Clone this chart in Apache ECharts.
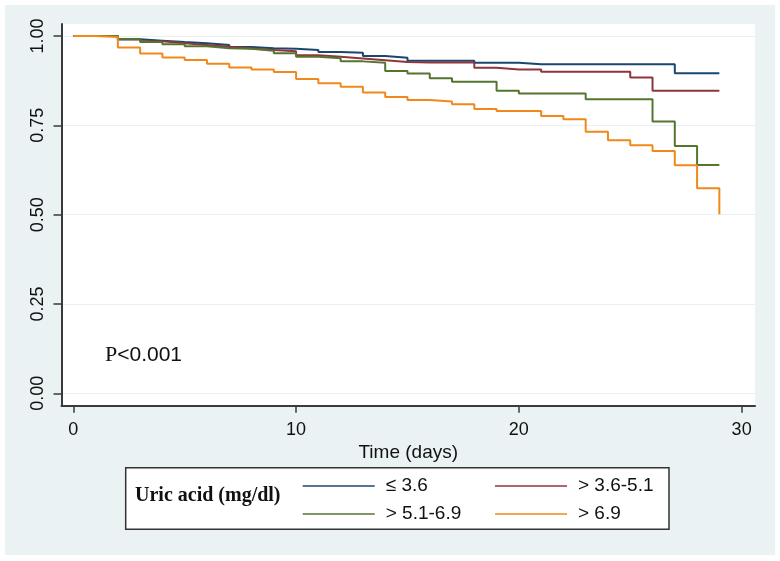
<!DOCTYPE html>
<html>
<head>
<meta charset="utf-8">
<script src="https://cdn.jsdelivr.net/npm/echarts@6/dist/echarts.min.js"></script>
<style>html,body{margin:0;padding:0;background:#fff}#c{width:780px;height:561px}</style>
</head>
<body>
<div id="c"></div>
<script>
const days = [0,1,2,3,4,5,6,7,8,9,10,11,12,13,14,15,16,17,18,19,20,21,22,23,24,25,26,27,28,29];
const seriesNames = ['≤ 3.6', '> 3.6-5.1', '> 5.1-6.9', '> 6.9'];
const le36 = [1.000,1.000,0.991,0.987,0.983,0.980,0.975,0.969,0.966,0.964,0.961,0.955,0.953,0.944,0.939,0.931,0.931,0.931,0.925,0.925,0.921,0.921,0.921,0.921,0.921,0.921,0.921,0.896,0.896,0.896];
const g36to51 = [1.000,1.000,0.991,0.985,0.980,0.975,0.970,0.965,0.961,0.957,0.946,0.942,0.937,0.932,0.927,0.926,0.926,0.926,0.911,0.906,0.906,0.900,0.900,0.900,0.900,0.884,0.847,0.847,0.847,0.847];
const g51to69 = [1.000,1.000,0.991,0.983,0.977,0.971,0.966,0.964,0.959,0.952,0.942,0.938,0.929,0.925,0.902,0.895,0.882,0.872,0.872,0.847,0.839,0.839,0.839,0.823,0.823,0.823,0.761,0.692,0.639,0.639];
const g69 = [1.000,0.997,0.968,0.951,0.940,0.933,0.922,0.912,0.906,0.899,0.880,0.868,0.858,0.842,0.829,0.821,0.817,0.809,0.796,0.790,0.790,0.776,0.767,0.732,0.708,0.694,0.678,0.638,0.574,0.501];
const xTicks = [0, 10, 20, 30];
const yTicks = [0, 0.25, 0.5, 0.75, 1];
const colors = ['#1a476f', '#90353b', '#55752f', '#f0891a'];
const values = [le36, g36to51, g51to69, g69];

const chart = echarts.init(document.getElementById('c'), null, {renderer: 'canvas'});
const sans = 'Liberation Sans, Arial, sans-serif';
const serif = 'Liberation Serif, Times New Roman, serif';

const series = values.map((v, i) => ({
  name: seriesNames[i],
  type: 'line',
  step: 'end',
  symbol: 'none',
  showSymbol: false,
  z: 3,
  lineStyle: {color: colors[i], width: 2},
  itemStyle: {color: colors[i]},
  data: days.map((d, k) => [d, v[k]])
}));

const legendBase = {
  orient: 'vertical', top: 475, itemWidth: 72, itemHeight: 2, itemGap: 6, padding: 0, z: 6,
  icon: 'path://M0,0 L100,0 L100,2 L0,2 Z',
  textStyle: {fontFamily: sans, fontSize: 19, color: '#111', padding: [0, 0, 0, 6], lineHeight: 22}
};

chart.setOption({
  backgroundColor: '#eaf2f3',
  animation: false,
  grid: {left: 61.5, right: 25, top: 24, bottom: 155.3, show: true, backgroundColor: '#ffffff', borderWidth: 0},
  xAxis: {
    type: 'value', min: -0.53, max: 30.6,
    axisLine: {show: true, onZero: false, lineStyle: {color: '#3a3a3a', width: 2}},
    axisTick: {show: true, length: 7, customValues: xTicks, lineStyle: {color: '#3a3a3a', width: 1.5}},
    axisLabel: {customValues: xTicks, margin: 15, fontFamily: sans, fontSize: 18, color: '#111'},
    splitLine: {show: false},
    name: 'Time (days)', nameLocation: 'middle', nameGap: 33,
    nameTextStyle: {fontFamily: sans, fontSize: 19, color: '#111'}
  },
  yAxis: {
    type: 'value', min: -0.0347, max: 1.0336,
    axisLine: {show: true, onZero: false, lineStyle: {color: '#3a3a3a', width: 2}},
    axisTick: {show: true, length: 8, customValues: yTicks, lineStyle: {color: '#3a3a3a', width: 1.5}},
    axisLabel: {customValues: yTicks, rotate: 90, margin: 14, fontFamily: sans, fontSize: 18, color: '#111',
      formatter: v => Number(v).toFixed(2)},
    splitLine: {show: true, lineStyle: {color: '#e8f0f3', width: 1}}
  },
  legend: [
    Object.assign({}, legendBase, {data: [seriesNames[0], seriesNames[2]], left: 302.7}),
    Object.assign({}, legendBase, {data: [seriesNames[1], seriesNames[3]], left: 495})
  ],
  graphic: [
    {type: 'rect', z: 1, shape: {x: 125.7, y: 467.7, width: 543.3, height: 61.6},
      style: {fill: '#ffffff', stroke: '#333333', lineWidth: 1.5}},
    {type: 'text', z: 7, left: 135, top: 486, style: {text: 'Uric acid (mg/dl)', font: 'bold 20px ' + serif, fill: '#111'}},
    {type: 'text', z: 7, left: 105, top: 344, style: {
      text: '{p|P}{r|<0.001}',
      rich: {p: {fontFamily: serif, fontSize: 22, fill: '#111'}, r: {fontFamily: sans, fontSize: 21, fill: '#111'}}
    }},
    {type: 'rect', z: 100, silent: true, shape: {x: 0, y: 0, width: 780, height: 561},
      style: {fill: 'none', stroke: '#ffffff', lineWidth: 10}},
    {type: 'rect', z: 100, silent: true, shape: {x: 0, y: 555, width: 780, height: 6},
      style: {fill: '#ffffff'}}
  ],
  series: series
});
</script>
</body>
</html>
